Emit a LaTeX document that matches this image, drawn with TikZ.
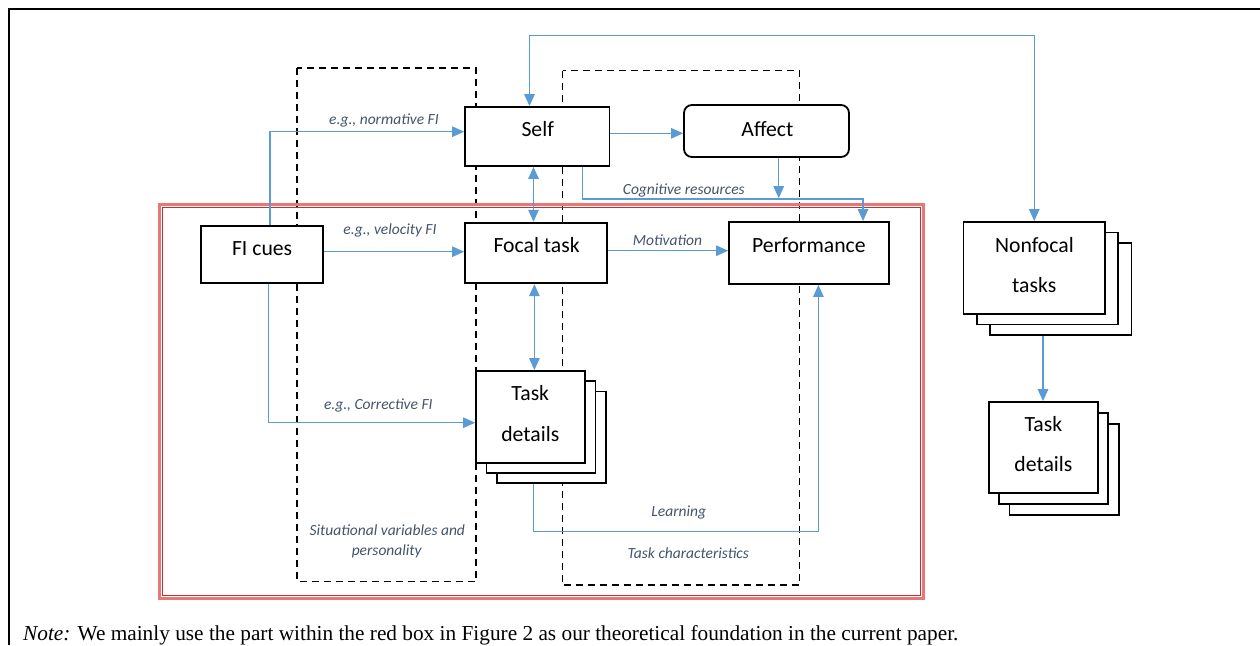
\documentclass[tikz,border=0pt]{standalone}
\usepackage{fontspec}
\setmainfont{Liberation Serif}
\newfontfamily\carlito{Carlito}
\usetikzlibrary{arrows.meta,calc}
\definecolor{conblue}{RGB}{91,155,213}
\definecolor{lblcol}{RGB}{68,84,106}
\definecolor{redout}{RGB}{232,120,120}
\definecolor{redin}{RGB}{200,45,45}
\tikzset{
  box/.style={draw, line width=1.8pt, fill=white, inner sep=0pt, anchor=center},
  boxtxt/.style={anchor=base, inner sep=0pt, font=\carlito\fontsize{21.7}{26}\selectfont},
  lbl/.style={anchor=base, inner sep=0pt, text=lblcol, font=\carlito\itshape\fontsize{15.5}{18}\selectfont},
  conn/.style={draw=conblue, line width=1.3pt},
  onearrow/.style={-{Triangle[length=12pt,width=10.5pt]}},
  twoarrows/.style={{Triangle[length=12pt,width=10.5pt]}-{Triangle[length=12pt,width=10.5pt]}},
  dashbox/.style={draw, line width=1.7pt, dash pattern=on 7pt off 5pt}
}
\begin{document}
\begin{tikzpicture}[x=1pt,y=-1pt]
\useasboundingbox (0,0) rectangle (1260,645);
% outer frame
\draw[line width=2.5pt] (9,645) -- (9,9) -- (1260,9);
% dashed group boxes
\draw[dashbox] (297,68) rectangle (476,581.5);
\draw[dashbox] (562.5,70.5) rectangle (799.5,585);
% red double box
\draw[redout, line width=2.8pt] (159.4,204.7) rectangle (923.6,598.6);
\draw[redin, line width=0.9pt] (162.5,207.6) rectangle (920.5,595.8);

% coordinates for connector routes
\coordinate (lp) at (529.5,35.7);
\coordinate (c2) at (270,131.7);
\coordinate (c3) at (0,251.7);
\coordinate (c4) at (268.4,422.7);
\coordinate (c5) at (533.5,0);
\coordinate (c6) at (534.4,0);
\coordinate (c7) at (0,133.3);
\coordinate (c8) at (582.5,199);
\coordinate (c9) at (863,199);
\coordinate (c10) at (778.7,198.2);
\coordinate (c11) at (0,250.7);
\coordinate (c12) at (533.6,531.7);
\coordinate (c13) at (818.4,531.7);
\coordinate (c14) at (1043,0);

% boxes
\node[box, minimum width=144.5pt, minimum height=59pt] (self) at (537.25,136.5) {};
\node[box, rounded corners=8pt, minimum width=165pt, minimum height=52pt] (affect) at (766.5,131) {};
\node[box, minimum width=121.6pt, minimum height=57pt] (ficues) at (261.8,254.2) {};
\node[box, minimum width=141.7pt, minimum height=60.6pt] (focal) at (535.85,253) {};
\node[box, minimum width=160pt, minimum height=62pt] (perf) at (809,253) {};
% nonfocal stack
\node[box, minimum width=141.5pt, minimum height=92pt] (nfc) at (1060.75,289) {};
\node[box, minimum width=141.5pt, minimum height=92pt] (nfb) at (1047.5,278.5) {};
\node[box, minimum width=141.5pt, minimum height=92pt] (nfa) at (1034.25,268) {};
% task details stack (middle)
\node[box, minimum width=109pt, minimum height=91.7pt] (tdc) at (551.5,437.35) {};
\node[box, minimum width=109pt, minimum height=91.7pt] (tdb) at (541,427.15) {};
\node[box, minimum width=109pt, minimum height=91.7pt] (tda) at (530.5,416.85) {};
% task details stack (right)
\node[box, minimum width=109.2pt, minimum height=91pt] (rtc) at (1064,469.5) {};
\node[box, minimum width=109.2pt, minimum height=91pt] (rtb) at (1053.7,458.5) {};
\node[box, minimum width=109.2pt, minimum height=91pt] (rta) at (1043.4,447.5) {};

% box texts
\node[boxtxt] (selft) at (537.7,136.7) {Self};
\node[boxtxt] (affectt) at (767.4,136.7) {Affect};
\node[boxtxt] (ficuest) at (262.1,255) {FI cues};
\node[boxtxt] (focalt) at (536.6,252.3) {Focal task};
\node[boxtxt] (perft) at (808.9,252.7) {Performance};
\node[boxtxt] (nft1) at (1034.4,252.3) {Nonfocal};
\node[boxtxt] (nft2) at (1034.2,292.7) {tasks};
\node[boxtxt] (tdt1) at (530.3,400) {Task};
\node[boxtxt] (tdt2) at (530.3,441.3) {details};
\node[boxtxt] (rtt1) at (1043.4,431) {Task};
\node[boxtxt] (rtt2) at (1043.4,471.7) {details};

% connectors
\draw[conn, twoarrows] (self.north -| lp) -- (lp) -| (nfa.north);
\draw[conn, onearrow] (ficues.north -| c2) |- (self.west |- c2);
\draw[conn, onearrow] (ficues.east |- c3) -- (focal.west |- c3);
\draw[conn, onearrow] (ficues.south -| c4) |- (tda.west |- c4);
\draw[conn, twoarrows] (self.south -| c5) -- (focal.north -| c5);
\draw[conn, twoarrows] (focal.south -| c6) -- (tda.north -| c6);
\draw[conn, onearrow] (self.east |- c7) -- (affect.west |- c7);
\draw[conn, onearrow] (self.south -| c8) -- (c8) -- (c9) -- (perf.north -| c9);
\draw[conn, onearrow] (affect.south -| c10) -- (c10);
\draw[conn, onearrow] (focal.east |- c11) -- (perf.west |- c11);
\draw[conn, onearrow] (tdc.south -| c12) -- (c12) -- (c13) -- (perf.south -| c13);
\draw[conn, onearrow] (nfc.south -| c14) -- (rta.north -| c14);

% connector labels
\node[lbl] (l1) at (384,124) {e.g., normative FI};
\node[lbl] (l2) at (390,234) {e.g., velocity FI};
\node[lbl] (l3) at (378.3,409.3) {e.g., Corrective FI};
\node[lbl] (l4) at (683.8,194.3) {Cognitive resources};
\node[lbl] (l5) at (667.5,245.7) {Motivation};
\node[lbl] (l6) at (678.7,516.7) {Learning};
\node[lbl] (l7) at (688.3,558.7) {Task characteristics};
\node[lbl] (l8) at (387.3,535) {Situational variables and};
\node[lbl] (l9) at (386.7,555) {personality};

% caption
\node[anchor=base west, inner sep=0pt, font=\fontsize{21.3}{24}\selectfont] (note) at (23,640.3)
  {\textit{Note:} We mainly use the part within the red box in Figure 2 as our theoretical foundation in the current paper.};
\end{tikzpicture}
\end{document}
